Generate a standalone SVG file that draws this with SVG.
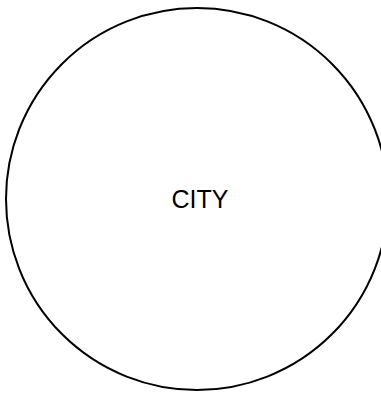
<svg xmlns="http://www.w3.org/2000/svg" width="381" height="393" viewBox="0 0 381 393">
<style>
.node-shape{fill:#ffffff;stroke:#000000;stroke-width:2}
.label{font-family:"Liberation Sans",Arial,sans-serif;font-size:25px;fill:#000000}
</style>
<rect width="381" height="393" fill="#ffffff"/>
<g id="connectors"></g>
<g id="city">
<circle class="node-shape" cx="197" cy="199" r="191"/>
<text class="label" x="200" y="208" text-anchor="middle">CITY</text>
</g>
</svg>
